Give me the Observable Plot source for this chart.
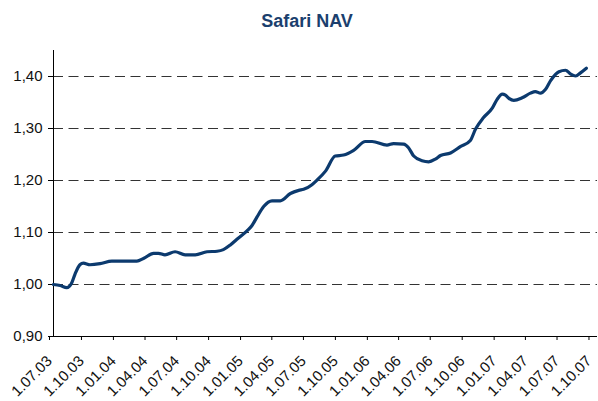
<!DOCTYPE html>
<html><head><meta charset="utf-8">
<script src="https://cdn.jsdelivr.net/npm/d3@7"></script>
<script src="https://cdn.jsdelivr.net/npm/@observablehq/plot@0.6"></script>
<style>
body{margin:0;background:#fff;font-family:"Liberation Sans",Arial,sans-serif;}
#wrap{position:relative;width:598px;height:401px;}
#title{position:absolute;top:12px;left:0;width:598px;box-sizing:border-box;padding-left:16px;text-align:center;font-size:18px;line-height:18px;font-weight:bold;color:#1b3f6e;z-index:2;}
#chart{position:absolute;top:0;left:0;}
</style></head><body>
<div id="wrap"><div id="title">Safari NAV</div><div id="chart"></div></div>
<script>
const dates = ["2003-07-01","2003-07-20","2003-08-08","2003-08-23","2003-09-01","2003-09-15","2003-09-25","2003-10-14","2003-11-12","2003-12-16",
"2004-01-09","2004-02-26","2004-03-16","2004-04-14","2004-04-28","2004-05-17","2004-06-15","2004-07-14","2004-08-12","2004-09-15","2004-10-14","2004-11-01","2004-11-21","2004-12-10",
"2005-01-08","2005-01-22","2005-02-06","2005-02-25","2005-03-21","2005-04-14","2005-05-13","2005-06-06","2005-06-20","2005-07-14","2005-07-29","2005-08-22","2005-09-19","2005-10-13","2005-11-11","2005-12-15",
"2006-01-03","2006-02-15","2006-03-06","2006-04-04","2006-04-18","2006-05-03","2006-05-27","2006-06-15","2006-07-04","2006-07-19","2006-08-17","2006-09-14","2006-10-13","2006-10-28","2006-11-20","2006-12-15","2006-12-29",
"2007-01-13","2007-01-22","2007-02-01","2007-02-15","2007-03-11","2007-04-04","2007-04-18","2007-05-03","2007-05-17","2007-06-01","2007-06-25","2007-07-14","2007-07-28","2007-08-12","2007-08-26","2007-09-12"];
const nav = [1.000,0.998,0.994,1.004,1.020,1.038,1.041,1.038,1.040,1.045,
1.045,1.045,1.050,1.060,1.060,1.057,1.063,1.057,1.057,1.063,1.064,1.067,1.076,1.087,
1.103,1.113,1.130,1.150,1.161,1.161,1.175,1.181,1.183,1.192,1.201,1.218,1.247,1.249,1.258,1.275,
1.275,1.268,1.271,1.270,1.263,1.247,1.238,1.236,1.241,1.248,1.253,1.265,1.277,1.299,1.321,1.339,1.356,
1.366,1.364,1.358,1.354,1.359,1.368,1.371,1.368,1.375,1.392,1.409,1.412,1.405,1.401,1.407,1.416];
const tickDates = ["2003-07-01","2003-10-01","2004-01-01","2004-04-01","2004-07-01","2004-10-01","2005-01-01","2005-04-01","2005-07-01","2005-10-01","2006-01-01","2006-04-01","2006-07-01","2006-10-01","2007-01-01","2007-04-01","2007-07-01","2007-10-01"];
const tickLabels = ["1.07.03","1.10.03","1.01.04","1.04.04","1.07.04","1.10.04","1.01.05","1.04.05","1.07.05","1.10.05","1.01.06","1.04.06","1.07.06","1.10.06","1.01.07","1.04.07","1.07.07","1.10.07"];
const yTicks = [0.9, 1.0, 1.1, 1.2, 1.3, 1.4];
const yTickLabels = ["0,90","1,00","1,10","1,20","1,30","1,40"];
const gridValues = [1.0, 1.1, 1.2, 1.3, 1.4];

const parse = s => new Date(s + "T00:00:00Z");
const data = dates.map((d, i) => ({date: parse(d), nav: nav[i]}));
const xTicks = tickDates.map(parse);
const xStart = parse("2003-07-01"), xEnd = parse("2007-10-14");

const chart = Plot.plot({
  width: 598, height: 401,
  marginLeft: 53, marginRight: 1, marginTop: 50, marginBottom: 65,
  style: {fontFamily: "'Liberation Sans', Arial, sans-serif", fontSize: "15px", color: "#111", background: "transparent"},
  x: {type: "utc", domain: [xStart, xEnd]},
  y: {domain: [0.9, 1.45]},
  marks: [
    Plot.ruleY(gridValues, {stroke: "#333", strokeWidth: 1, strokeDasharray: "10,5.5"}),
    Plot.ruleX([xStart], {y1: 0.9, y2: 1.45, stroke: "#000"}),
    Plot.ruleY([0.9], {stroke: "#000"}),
    Plot.axisY({ticks: yTicks, tickFormat: d => yTickLabels[yTicks.findIndex(t => Math.abs(t - d) < 1e-9)], tickSize: 5, tickPadding: 6, fontSize: 15, stroke: "#000", label: null}),
    Plot.axisX({ticks: xTicks, tickFormat: d => tickLabels[xTicks.findIndex(t => +t === +d)], tickSize: 4, tickRotate: -45, tickPadding: 18, dx: -4, fontSize: 15, stroke: "#000", label: null}),
    Plot.lineY(data, {x: "date", y: "nav", stroke: "#0c3a6e", strokeWidth: 3.2, curve: "monotone-x"})
  ]
});
document.getElementById("chart").appendChild(chart);
</script>
</body></html>
